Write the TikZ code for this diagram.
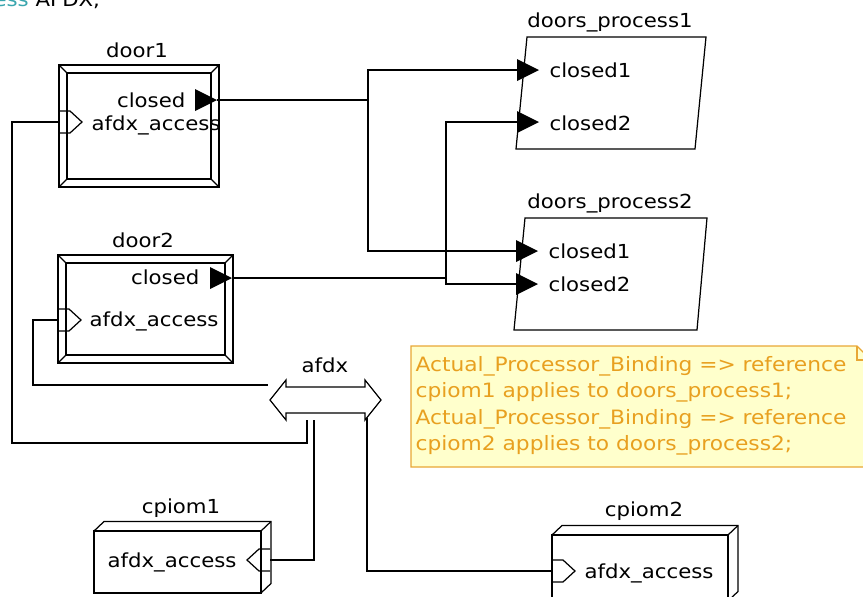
\documentclass[tikz,border=0pt]{standalone}
\usepackage{fontspec}
\setmainfont{DejaVu Sans}[FakeStretch=1.1]
\usepackage{xcolor}
\usepackage{tikz}

\definecolor{notefill}{HTML}{FFFFCC}
\definecolor{noteline}{HTML}{E8A735}
\definecolor{notetext}{HTML}{E8A020}
\definecolor{kwteal}{HTML}{3AA6AE}

\begin{document}
\begin{tikzpicture}[
      x=0.02cm, y=-0.02cm,
      font=\fontsize{11}{15.1}\selectfont,
      line width=0.7pt,
      door/.style={rectangle, draw, inner sep=0pt, outer sep=0pt},
      device/.style={rectangle, draw, inner sep=0pt, outer sep=0pt},
      lbl/.style={inner sep=0pt, anchor=base},
      outport/.pic={\fill (0,-11) -- (22,0) -- (0,11) -- cycle;
        \coordinate (-in) at (0,0); \coordinate (-tip) at (22,0);},
      inport/.pic={\draw (0,-11) -- (11,-11) -- (23,0) -- (11,11) -- (0,11);
        \coordinate (-in) at (0,0);}
    ]
      \useasboundingbox (0,0) rectangle (863,596);
      \clip (0,0) rectangle (863,596);
      \node[lbl, anchor=base east] (head) at (101,6) {{\color{kwteal}access} AFDX;};
      % doors
      \node[door, minimum width=3.2cm, minimum height=2.44cm] (door1) at (139,126) {};
      \node[door, minimum width=3.5cm, minimum height=2.16cm] (door2) at (145.5,309) {};
      \foreach \d in {door1,door2}{
        \draw ([shift={(8,8)}]\d.north west) rectangle ([shift={(-8,-8)}]\d.south east);
        \draw (\d.north west) -- ++(8,8) (\d.north east) -- ++(-8,8)
              (\d.south west) -- ++(8,-8) (\d.south east) -- ++(-8,-8);
      }
      \node[lbl] (door1lbl) at (137,57) {door1};
      \node[lbl] (door2lbl) at (143,247) {door2};
      \node[lbl, anchor=base east] (d1closedlbl) at (186,107) {closed};
      \node[lbl, anchor=base west] (d1afdxlbl) at (91,130) {afdx\_access};
      \node[lbl, anchor=base east] (d2closedlbl) at (200,284) {closed};
      \node[lbl, anchor=base west] (d2afdxlbl) at (89,326) {afdx\_access};
      \pic (d1closed) at (195,100) {outport};
      \pic (d2closed) at (210,278) {outport};
      \pic (d1afdx) at (59,122) {inport};
      \pic (d2afdx) at (58,320) {inport};
      % processes
      \draw (527,37) -- (706,37) -- (695,149) -- (516,149) -- cycle;
      \draw (525,218) -- (707,218) -- (697,330) -- (514,330) -- cycle;
      \node[lbl] (dp1lbl) at (610,27) {doors\_process1};
      \node[lbl] (dp2lbl) at (610,208) {doors\_process2};
      \pic (dp1c1) at (517,70) {outport};
      \pic (dp1c2) at (517,122) {outport};
      \pic (dp2c1) at (516,251) {outport};
      \pic (dp2c2) at (516,284) {outport};
      \node[lbl, anchor=base west] (dp1c1lbl) at (549,77) {closed1};
      \node[lbl, anchor=base west] (dp1c2lbl) at (549,130) {closed2};
      \node[lbl, anchor=base west] (dp2c1lbl) at (548,258) {closed1};
      \node[lbl, anchor=base west] (dp2c2lbl) at (548,291) {closed2};
      % bus
      \draw (270,400) -- (286,380) -- (286,387) -- (365,387) -- (365,380) -- (381,400)
            -- (365,420) -- (365,413) -- (286,413) -- (286,420) -- cycle;
      \node[lbl] (afdxlbl) at (325,372) {afdx};
      \coordinate (afdxl) at (268,385);
      \coordinate (afdxb1) at (307,420);
      \coordinate (afdxb2) at (314,420);
      \coordinate (afdxb3) at (367,418);
      % devices
      \node[device, minimum width=3.34cm, minimum height=1.24cm] (cpiom1) at (177.5,562) {};
      \node[device, minimum width=3.52cm, minimum height=1.32cm] (cpiom2) at (640,568) {};
      \foreach \c in {cpiom1,cpiom2}{
        \draw (\c.north west) -- ++(10,-9.5) -| ([shift={(10,-9.5)}]\c.south east) -- (\c.south east);
        \draw (\c.north east) -- ++(10,-9.5);
      }
      \node[lbl] (cpiom1lbl) at (181,513) {cpiom1};
      \node[lbl] (cpiom2lbl) at (644,516) {cpiom2};
      \node[lbl, anchor=base west] (c1afdxlbl) at (107,567) {afdx\_access};
      \node[lbl, anchor=base west] (c2afdxlbl) at (584,578) {afdx\_access};
      \pic[rotate=180] (c1afdx) at (270,560) {inport};
      \pic (c2afdx) at (552,571) {inport};
      % connections
      \coordinate (j1) at (368,100);
      \coordinate (j2) at (446,278);
      \draw (d1closed-tip) -- (j1) |- (dp1c1-in);
      \draw (j1) |- (dp2c1-in);
      \draw (d2closed-tip) -- (j2) |- (dp1c2-in);
      \draw (j2) |- (dp2c2-in);
      \draw (d1afdx-in) -| (12,443) -| (afdxb1);
      \draw (d2afdx-in) -| (33,385) -- (afdxl);
      \draw (c1afdx-in) -| (afdxb2);
      \draw (c2afdx-in) -| (afdxb3);
      % note
      \draw[noteline, fill=notefill] (411,346) -- (857,346) -- (871,360) -- (871,467) -- (411,467) -- cycle;
      \draw[noteline] (857,346) -- (857,360) -- (871,360);
      \node[inner sep=0pt, anchor=north west, align=left, text=notetext,
            font=\fontsize{11.25}{15.1}\selectfont] (note) at (415,355.5)
        {Actual\_Processor\_Binding => reference\\cpiom1 applies to doors\_process1;\\
         Actual\_Processor\_Binding => reference\\cpiom2 applies to doors\_process2;};
    \end{tikzpicture}
\end{document}
